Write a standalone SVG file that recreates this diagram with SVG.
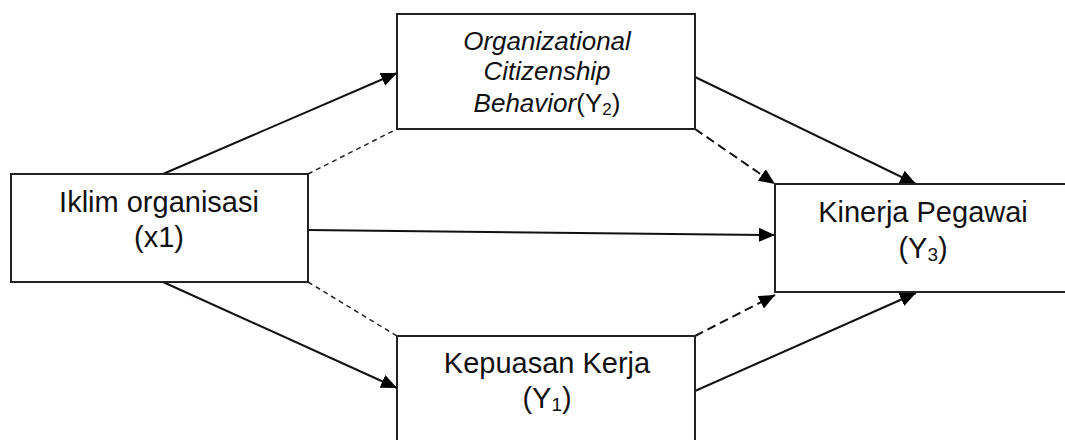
<svg xmlns="http://www.w3.org/2000/svg" width="1065" height="440" viewBox="0 0 1065 440">
<style>
.box{fill:#fff;stroke:#222;stroke-width:2}
.t{font-family:"Liberation Sans",Arial,sans-serif;fill:#111;text-anchor:middle}
.solid{fill:none;stroke:#111;stroke-width:2}
.dot{fill:none;stroke:#222;stroke-width:1.5;stroke-dasharray:5 4}
.dash{fill:none;stroke:#111;stroke-width:2;stroke-dasharray:9 5}
</style>
<defs>
<marker id="ah" markerUnits="userSpaceOnUse" markerWidth="16" markerHeight="14" refX="16" refY="7" orient="auto" viewBox="0 0 16 14">
<path d="M0,0 L16,7 L0,14 z" fill="#000" stroke="none"/>
</marker>
</defs>
<rect width="1065" height="440" fill="#fff"/>
<g id="connectors">
<line class="solid" x1="163" y1="174" x2="397" y2="73" marker-end="url(#ah)"/>
<line class="dot" x1="308" y1="174" x2="397" y2="129"/>
<line class="solid" x1="308" y1="230" x2="775" y2="235" marker-end="url(#ah)"/>
<line class="dot" x1="308" y1="282" x2="397" y2="336"/>
<line class="solid" x1="163" y1="282" x2="397" y2="388" marker-end="url(#ah)"/>
<line class="solid" x1="695" y1="77" x2="916" y2="184" marker-end="url(#ah)"/>
<line class="dash" x1="695" y1="129" x2="775" y2="184" marker-end="url(#ah)"/>
<line class="dash" x1="695" y1="336" x2="775" y2="295" marker-end="url(#ah)"/>
<line class="solid" x1="695" y1="391" x2="916" y2="293" marker-end="url(#ah)"/>
</g>
<g id="ocb">
<rect class="box" x="397" y="14" width="298" height="115"/>
<text class="t" x="547" y="50" font-size="26" font-style="italic">Organizational</text>
<text class="t" x="547" y="80" font-size="26" font-style="italic">Citizenship</text>
<text class="t" x="547" y="112" font-size="26"><tspan font-style="italic">Behavior</tspan>(Y<tspan font-size="17" dy="3">2</tspan><tspan dy="-3">)</tspan></text>
</g>
<g id="iklim">
<rect class="box" x="11" y="174" width="297" height="108"/>
<text class="t" x="159" y="212" font-size="29">Iklim organisasi</text>
<text class="t" x="159" y="247" font-size="29">(x1)</text>
</g>
<g id="kinerja">
<rect class="box" x="775" y="184" width="300" height="108"/>
<text class="t" x="923" y="222" font-size="29">Kinerja Pegawai</text>
<text class="t" x="923" y="258" font-size="29">(Y<tspan font-size="19" dy="3">3</tspan><tspan dy="-3">)</tspan></text>
</g>
<g id="kepuasan">
<rect class="box" x="397" y="336" width="298" height="120"/>
<text class="t" x="547" y="373" font-size="29">Kepuasan Kerja</text>
<text class="t" x="547" y="408" font-size="29">(Y<tspan font-size="19" dy="3">1</tspan><tspan dy="-3">)</tspan></text>
</g>
</svg>
